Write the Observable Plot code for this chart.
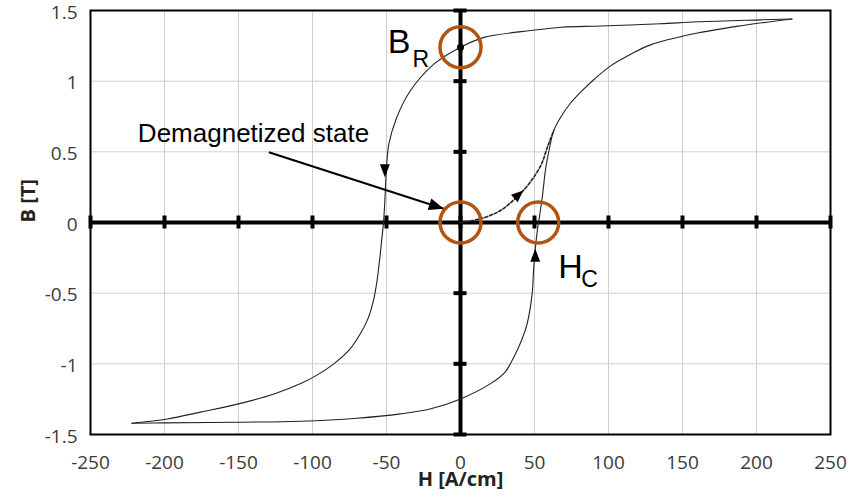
<!DOCTYPE html>
<html>
<head>
<meta charset="utf-8">
<script src="https://cdn.jsdelivr.net/npm/d3@7"></script>
<script src="https://cdn.jsdelivr.net/npm/@observablehq/plot@0.6"></script>
<style>
  html, body { margin: 0; padding: 0; background: #fff; }
  #chart svg { display: block; }
</style>
</head>
<body>
<div id="chart"></div>
<script>
// ---- Data ----
const xTicks = [-250, -200, -150, -100, -50, 0, 50, 100, 150, 200, 250];
const yTicks = [-1.5, -1, -0.5, 0, 0.5, 1, 1.5];

// Descending branch (from +Hmax to -Hmax)
const descH = [224, 203, 160, 135, 95, 68, 49, 16, 0, -18, -34, -43, -48.4, -50, -51.1, -52, -53, -54.5, -56.5, -59, -62.5, -67.6, -75, -85.6, -97, -108, -125, -148.6, -175, -198, -222];
const descB = [1.44, 1.434, 1.42, 1.406, 1.39, 1.382, 1.36, 1.31, 1.24, 1.12, 0.93, 0.745, 0.557, 0.39, 0.156, 0.0, -0.1, -0.25, -0.42, -0.56, -0.68, -0.786, -0.9, -1.0, -1.08, -1.14, -1.21, -1.28, -1.34, -1.39, -1.42];

// Ascending branch (from -Hmax to +Hmax)
const ascH = [-222, -200, -150, -108, -70, -40.5, -20, 0, 20.3, 30, 36, 41, 45, 48.4, 49.5, 50.5, 52, 53.5, 55.5, 57.5, 60, 63, 68, 74, 81, 90, 101, 115, 128, 157.6, 191, 224];
const ascB = [-1.42, -1.418, -1.413, -1.406, -1.385, -1.354, -1.318, -1.248, -1.14, -1.06, -0.953, -0.84, -0.717, -0.505, -0.316, -0.19, -0.05, 0.05, 0.2, 0.38, 0.52, 0.65, 0.75, 0.84, 0.92, 1.01, 1.105, 1.19, 1.255, 1.335, 1.394, 1.44];

// Initial magnetization curve (dashed)
const initH = [0, 13.5, 27, 36, 42.4, 49.5, 55, 58.6, 63];
const initB = [0, 0.026, 0.085, 0.16, 0.226, 0.32, 0.42, 0.53, 0.65];

// Highlight circles: remanence, demagnetized state, coercivity
const circleH = [0, 0, 52.5];
const circleB = [1.24, 0, 0];

// Remanence point
const remH = [0];
const remB = [1.24];

// Direction arrowheads (tip position, screen angle in degrees)
const arrowH = [-51.1, 50.5, 42.4, -11.3];
const arrowB = [0.32, -0.186, 0.226, 0.097];
const arrowAngle = [90, -90, -42, 17.9];
const arrowLen = [13, 13, 12, 15];
const arrowHalf = [5, 5, 5, 6];

// Annotation pointer line for "Demagnetized state"
const pointerH = [-129.5, -11.3];
const pointerB = [0.497, 0.097];

// Text annotations
const demagLabel = "Demagnetized state";
const demagLabelH = -218;
const demagLabelB = 0.57;
const xLabel = "H [A/cm]";
const yLabel = "B [T]";

// ---- Build tables ----
const desc = descH.map((h, i) => ({H: h, B: descB[i]}));
const asc = ascH.map((h, i) => ({H: h, B: ascB[i]}));
const init = initH.map((h, i) => ({H: h, B: initB[i]}));
const circles = circleH.map((h, i) => ({H: h, B: circleB[i]}));
const rem = remH.map((h, i) => ({H: h, B: remB[i]}));
const arrows = arrowH.map((h, i) => ({H: h, B: arrowB[i], angle: arrowAngle[i], len: arrowLen[i], half: arrowHalf[i]}));

function triSymbol(angleDeg, len, half) {
  const a = angleDeg * Math.PI / 180;
  const c = Math.cos(a), s = Math.sin(a);
  return {
    draw(ctx) {
      const bx = -len * c, by = -len * s;
      const px = -s, py = c;
      ctx.moveTo(0, 0);
      ctx.lineTo(bx + half * px, by + half * py);
      ctx.lineTo(bx - half * px, by - half * py);
      ctx.closePath();
    }
  };
}

const orange = "#b4530f";
const curveColor = "#222";
const annoFont = "'Liberation Sans', Arial, sans-serif";

const plot = Plot.plot({
  width: 859,
  height: 504,
  marginLeft: 90,
  marginRight: 29,
  marginTop: 10,
  marginBottom: 70,
  style: {fontFamily: "'Open Sans', sans-serif", fontSize: "19px", color: "#3a3a3a", background: "#fff", overflow: "visible"},
  x: {domain: [-250, 250]},
  y: {domain: [-1.5, 1.5]},
  marks: [
    Plot.gridX({ticks: xTicks, stroke: "#cfcfcf", strokeOpacity: 1, strokeWidth: 1}),
    Plot.gridY({ticks: yTicks, stroke: "#cfcfcf", strokeOpacity: 1, strokeWidth: 1}),
    Plot.axisX({ticks: xTicks, tickSize: 0, tickPadding: 21, tickFormat: d => String(d), label: null, fill: "#3a3a3a"}),
    Plot.axisY({ticks: yTicks, tickSize: 0, tickPadding: 13, dy: 2, tickFormat: d => String(d), label: null, fill: "#3a3a3a"}),
    Plot.frame({stroke: "#000", strokeWidth: 2}),
    Plot.ruleY([0], {stroke: "#000", strokeWidth: 4}),
    Plot.ruleX([0], {stroke: "#000", strokeWidth: 4}),
    // small tick marks along the zero axes
    Plot.ruleX(xTicks, {x: d => d, y1: 0, y2: 0, insetTop: -6.5, insetBottom: -6.5, stroke: "#000", strokeWidth: 4}),
    Plot.ruleY(yTicks.filter(d => d !== 0), {y: d => d, x1: 0, x2: 0, insetLeft: -6.5, insetRight: -6.5, stroke: "#000", strokeWidth: 4}),
    // hysteresis loop
    Plot.line(desc, {x: "H", y: "B", curve: "catmull-rom", stroke: curveColor, strokeWidth: 1.1}),
    Plot.line(asc, {x: "H", y: "B", curve: "catmull-rom", stroke: curveColor, strokeWidth: 1.1}),
    Plot.line(init, {x: "H", y: "B", curve: "catmull-rom", stroke: curveColor, strokeWidth: 1.6, strokeDasharray: "3,2"}),
    // pointer line
    Plot.link([0], {x1: () => pointerH[0], y1: () => pointerB[0], x2: () => pointerH[1], y2: () => pointerB[1], stroke: "#000", strokeWidth: 2}),
    // arrowheads
    ...arrows.map(a => Plot.dot([a], {x: "H", y: "B", symbol: triSymbol(a.angle, a.len, a.half), r: 6, fill: "#000", stroke: "none"})),
    // remanence dot
    Plot.dot(rem, {x: "H", y: "B", r: 3.5, fill: "#000"}),
    // highlight circles
    Plot.dot(circles, {x: "H", y: "B", r: 20.5, stroke: orange, strokeWidth: 3.5, fill: "none"}),
    // annotation labels
    Plot.text([demagLabel], {x: () => demagLabelH, y: () => demagLabelB, text: d => d, textAnchor: "start", lineAnchor: "bottom", fontFamily: annoFont, fontSize: 26, fill: "#000"}),
    Plot.text(["B"], {x: () => remH[0], y: () => remB[0], text: d => d, textAnchor: "end", lineAnchor: "bottom", dx: -50, dy: 6, fontFamily: annoFont, fontSize: 34, fill: "#000"}),
    Plot.text(["R"], {x: () => remH[0], y: () => remB[0], text: d => d, textAnchor: "start", lineAnchor: "bottom", dx: -48, dy: 20, fontFamily: annoFont, fontSize: 23, fill: "#000"}),
    Plot.text(["H"], {x: () => circleH[2], y: () => circleB[2], text: d => d, textAnchor: "start", lineAnchor: "bottom", dx: 20, dy: 55, fontFamily: annoFont, fontSize: 34, fill: "#000"}),
    Plot.text(["C"], {x: () => circleH[2], y: () => circleB[2], text: d => d, textAnchor: "start", lineAnchor: "bottom", dx: 43, dy: 64, fontFamily: annoFont, fontSize: 23, fill: "#000"}),
    // axis titles
    Plot.text([xLabel], {text: d => d, frameAnchor: "bottom", lineAnchor: "bottom", dy: 51, fontWeight: "bold", fontSize: 20, fill: "#222"}),
    Plot.text([yLabel], {text: d => d, frameAnchor: "left", rotate: -90, dx: -62, fontWeight: "bold", fontSize: 20, fill: "#222"})
  ]
});
document.getElementById("chart").appendChild(plot);
</script>
</body>
</html>
